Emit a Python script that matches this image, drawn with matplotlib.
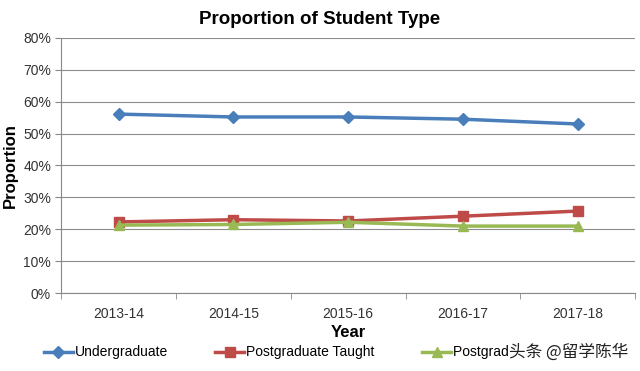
import matplotlib.pyplot as plt
from matplotlib.ticker import PercentFormatter

plt.rcParams['font.family'] = ['Liberation Sans', 'DejaVu Sans']

# Данные: доли типов студентов по годам
years = ['2013-14', '2014-15', '2015-16', '2016-17', '2017-18']
undergraduate = [0.561, 0.552, 0.552, 0.545, 0.530]
pg_taught = [0.223, 0.230, 0.226, 0.241, 0.257]
pg_research = [0.213, 0.215, 0.222, 0.210, 0.210]

fig = plt.figure(figsize=(6.4, 3.71), dpi=100)
ax = fig.add_axes([0.096, 0.21, 0.896, 0.688])

x = range(len(years))
ax.plot(x, undergraduate, color='#4a7ebb', lw=2.5, marker='D', ms=6, label='Undergraduate')
ax.plot(x, pg_taught, color='#be4b48', lw=2.5, marker='s', ms=7, label='Postgraduate Taught')
ax.plot(x, pg_research, color='#98b954', lw=2.5, marker='^', ms=7, label='Postgraduate Research')

ax.set_ylim(0, 0.8)
ax.set_yticks([i / 10 for i in range(9)])
ax.yaxis.set_major_formatter(PercentFormatter(1.0, decimals=0))
ax.set_xlim(-0.5, len(years) - 0.5)
ax.set_xticks(list(x))
ax.set_xticklabels(years)
ax.set_xticks([i - 0.5 for i in range(len(years) + 1)], minor=True)
ax.tick_params(axis='x', which='major', length=0, pad=10, labelsize=10, colors='#333333')
ax.tick_params(axis='x', which='minor', length=4, color='#888888')
ax.tick_params(axis='y', length=4, color='#888888', labelsize=10, labelcolor='#333333')
ax.grid(axis='y', color='#8c8c8c', lw=0.8)
ax.set_axisbelow(True)
for s in ['top', 'right']:
    ax.spines[s].set_visible(False)
for s in ['left', 'bottom']:
    ax.spines[s].set_color('#888888')

fig.suptitle('Proportion of Student Type', x=0.5, y=0.97, fontsize=13.5, fontweight='bold')
ax.set_xlabel('Year', fontsize=12, fontweight='bold', labelpad=3)
ax.set_ylabel('Proportion', fontsize=12, fontweight='bold', labelpad=4)

fig.legend(loc='center left', bbox_to_anchor=(0.068, 0.05), ncol=3, frameon=False,
           fontsize=10, handlelength=2.1, columnspacing=3.4, handletextpad=0.15,
           borderpad=0, borderaxespad=0)

# водяной знак поверх легенды
fig.text(0.982, 0.05, '头条 @留学陈华', ha='right', va='center', fontsize=12,
         color='#222222', family=['Noto Sans CJK SC', 'DejaVu Sans'], zorder=10,
         bbox=dict(facecolor='white', edgecolor='none', pad=1))

fig.savefig('out.png', dpi=100)
